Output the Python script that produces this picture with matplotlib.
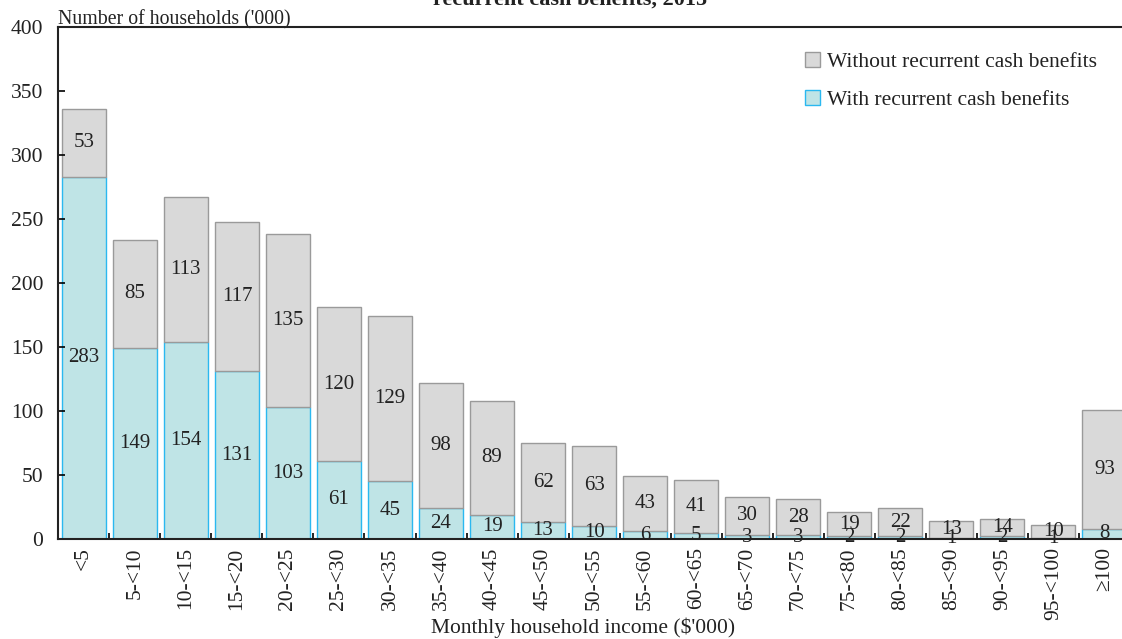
import matplotlib.pyplot as plt
import numpy as np

plt.rcParams['font.family'] = ['Liberation Serif', 'DejaVu Serif']

# Income groups ($'000 per month)
groups = ['<5', '5-<10', '10-<15', '15-<20', '20-<25', '25-<30', '30-<35',
          '35-<40', '40-<45', '45-<50', '50-<55', '55-<60', '60-<65', '65-<70',
          '70-<75', '75-<80', '80-<85', '85-<90', '90-<95', '95-<100', '≥100']

# Households ('000)
with_benefits = [283, 149, 154, 131, 103, 61, 45, 24, 19, 13, 10, 6, 5, 3, 3, 2, 2, 1, 2, 1, 8]
without_benefits = [53, 85, 113, 117, 135, 120, 129, 98, 89, 62, 63, 43, 41, 30, 28, 19, 22, 13, 14, 10, 93]

x = np.arange(len(groups))
w = 0.86
txt = '#222222'
fs = 15.5

fig = plt.figure(figsize=(11.22, 6.39), dpi=100)
ax = fig.add_axes([0.052, 0.1565, 0.955, 0.801])

b1 = ax.bar(x, with_benefits, w, color='#bfe4e6', edgecolor='#2ab8f0', linewidth=1,
            label='With recurrent cash benefits')
b2 = ax.bar(x, without_benefits, w, bottom=with_benefits, color='#d9d9d9',
            edgecolor='#9a9a9a', linewidth=1, label='Without recurrent cash benefits')

# value labels in the middle of each segment
for i in range(len(groups)):
    ax.text(x[i], with_benefits[i] / 2, str(with_benefits[i]), ha='center', va='center',
            fontsize=15, color=txt)
    ax.text(x[i], with_benefits[i] + without_benefits[i] / 2, str(without_benefits[i]),
            ha='center', va='center', fontsize=15, color=txt)

ax.set_xlim(-0.5, len(groups) - 0.5)
ax.set_ylim(0, 400)
ax.set_yticks(range(0, 401, 50))
ax.set_xticks(x)
ax.set_xticklabels(groups, rotation=90, fontsize=fs, color=txt)
ax.set_xticks(x[:-1] + 0.5, minor=True)
ax.tick_params(axis='x', which='major', length=0, pad=6)
ax.tick_params(axis='x', which='minor', direction='in', length=4, width=1.2)
ax.tick_params(axis='y', direction='in', length=5, width=1.2, labelsize=fs,
               labelcolor=txt, pad=11)

ax.spines['right'].set_visible(False)
for s in ['left', 'bottom', 'top']:
    ax.spines[s].set_linewidth(1.5)
    ax.spines[s].set_color('#222222')

ax.text(0, 0.996, "Number of households ('000)", transform=ax.transAxes, ha='left',
        va='bottom', fontsize=14.3, color=txt)
ax.set_xlabel("Monthly household income ($'000)", fontsize=fs, color=txt)
ax.xaxis.set_label_coords(0.49, -0.153)

leg = ax.legend(handles=[b2, b1], loc='upper right', bbox_to_anchor=(0.987, 0.99),
                frameon=False, fontsize=fs, handlelength=0.7, handleheight=0.7,
                handletextpad=0.3, labelspacing=0.85, labelcolor=txt)

fig.text(0.508, 1.0, 'recurrent cash benefits, 2015', ha='center', va='center',
         fontsize=16, fontweight='bold', color=txt)

fig.savefig('out.png', dpi=100)
